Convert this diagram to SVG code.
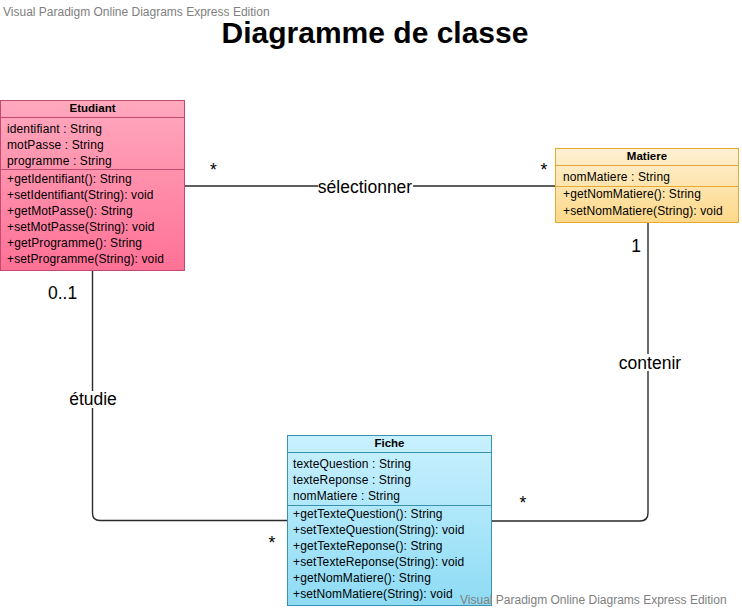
<svg xmlns="http://www.w3.org/2000/svg" width="742" height="609" viewBox="0 0 742 609">
<defs>
<linearGradient id="gE" x1="0" y1="0" x2="0" y2="1"><stop offset="0" stop-color="#FFA9BE"/><stop offset="1" stop-color="#FF7196"/></linearGradient>
<linearGradient id="gM" x1="0" y1="0" x2="0" y2="1"><stop offset="0" stop-color="#FEF1D4"/><stop offset="1" stop-color="#FDD888"/></linearGradient>
<linearGradient id="gF" x1="0" y1="0" x2="0" y2="1"><stop offset="0" stop-color="#C9F1FF"/><stop offset="1" stop-color="#8EDBF4"/></linearGradient>
</defs>
<style>
.wm{font-family:"Liberation Sans",Arial,sans-serif;font-size:12px;fill:#808080}
.title{font-family:"Liberation Sans",Arial,sans-serif;font-size:30px;font-weight:bold;fill:#000}
.hd{font-family:"Liberation Sans",Arial,sans-serif;font-size:11.5px;font-weight:bold;fill:#000;text-anchor:middle}
.tx{font-family:"Liberation Sans",Arial,sans-serif;font-size:12px;fill:#000;letter-spacing:0.12px}
.lb{font-family:"Liberation Sans",Arial,sans-serif;font-size:17.5px;fill:#000}
.ln{fill:none;stroke:#2a2a2a;stroke-width:1.4}
.bg{fill:#fff}
</style>
<rect width="742" height="609" fill="#fff"/>
<text class="wm" x="3" y="16">Visual Paradigm Online Diagrams Express Edition</text>
<text class="title" x="375" y="43" text-anchor="middle">Diagramme de classe</text>

<g id="connectors">
<path class="ln" d="M185,186 H555"/>
<path class="ln" d="M92.5,271 V513 Q92.5,520.5 100,520.5 H287"/>
<path class="ln" d="M648,223 V513 Q648,521 640,521 H492"/>
<rect class="bg" x="318" y="178" width="95" height="18"/>
<text class="lb" x="365" y="192.5" text-anchor="middle">sélectionner</text>
<rect class="bg" x="69" y="391" width="48" height="17"/>
<text class="lb" x="93" y="405" text-anchor="middle">étudie</text>
<rect class="bg" x="618" y="354" width="64" height="17"/>
<text class="lb" x="650" y="368.5" text-anchor="middle">contenir</text>
<text class="lb" x="213.5" y="176" text-anchor="middle">*</text>
<text class="lb" x="544" y="176" text-anchor="middle">*</text>
<text class="lb" x="48" y="299">0..1</text>
<text class="lb" x="272" y="548.5" text-anchor="middle">*</text>
<text class="lb" x="636" y="252" text-anchor="middle">1</text>
<text class="lb" x="523" y="509" text-anchor="middle">*</text>
</g>

<g id="Etudiant">
<rect x="0.5" y="100.5" width="184" height="170" fill="url(#gE)" stroke="#C2496F" stroke-width="1"/>
<path d="M0.5,117.5 H184.5 M0.5,169.5 H184.5" stroke="#C2496F" stroke-width="1"/>
<text class="hd" x="92.5" y="112">Etudiant</text>
<text class="tx" x="7" y="133">identifiant : String</text>
<text class="tx" x="7" y="149">motPasse : String</text>
<text class="tx" x="7" y="165">programme : String</text>
<text class="tx" x="7" y="183">+getIdentifiant(): String</text>
<text class="tx" x="7" y="199">+setIdentifiant(String): void</text>
<text class="tx" x="7" y="215">+getMotPasse(): String</text>
<text class="tx" x="7" y="231">+setMotPasse(String): void</text>
<text class="tx" x="7" y="247">+getProgramme(): String</text>
<text class="tx" x="7" y="263">+setProgramme(String): void</text>
</g>

<g id="Matiere">
<rect x="555.5" y="148.5" width="183" height="74" fill="url(#gM)" stroke="#E6A835" stroke-width="1"/>
<path d="M555.5,165.5 H738.5 M555.5,186.5 H738.5" stroke="#E6A835" stroke-width="1"/>
<text class="hd" x="647" y="159.5">Matiere</text>
<text class="tx" x="563" y="181">nomMatiere : String</text>
<text class="tx" x="563" y="198">+getNomMatiere(): String</text>
<text class="tx" x="563" y="214.5">+setNomMatiere(String): void</text>
</g>

<g id="Fiche">
<rect x="287.5" y="435.5" width="204" height="170" fill="url(#gF)" stroke="#3B8FB1" stroke-width="1"/>
<path d="M287.5,452.5 H491.5 M287.5,505.5 H491.5" stroke="#3B8FB1" stroke-width="1"/>
<text class="hd" x="389.5" y="447">Fiche</text>
<text class="tx" x="293" y="468">texteQuestion : String</text>
<text class="tx" x="293" y="484">texteReponse : String</text>
<text class="tx" x="293" y="500">nomMatiere : String</text>
<text class="tx" x="293" y="518">+getTexteQuestion(): String</text>
<text class="tx" x="293" y="534">+setTexteQuestion(String): void</text>
<text class="tx" x="293" y="550">+getTexteReponse(): String</text>
<text class="tx" x="293" y="566">+setTexteReponse(String): void</text>
<text class="tx" x="293" y="582">+getNomMatiere(): String</text>
<text class="tx" x="293" y="598">+setNomMatiere(String): void</text>
</g>

<text class="wm" x="460" y="604">Visual Paradigm Online Diagrams Express Edition</text>
</svg>
